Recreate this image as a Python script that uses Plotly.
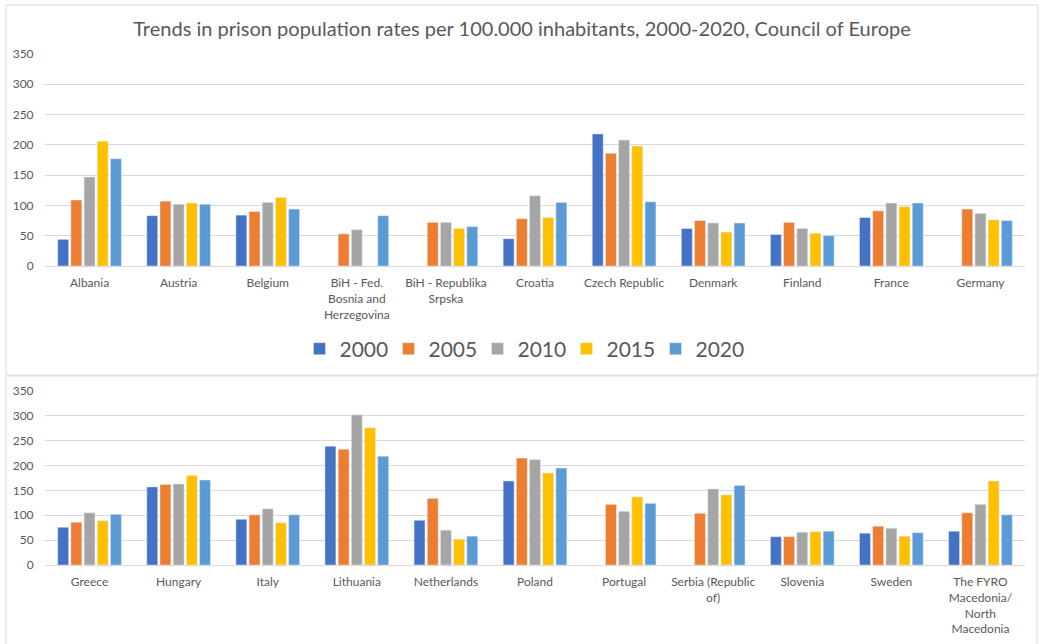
import plotly.graph_objects as go

title = "Trends in prison population rates per 100.000 inhabitants, 2000-2020, Council of Europe"
years = ["2000", "2005", "2010", "2015", "2020"]
colors = ["#4472C4", "#ED7D31", "#A5A5A5", "#FFC000", "#5B9BD5"]

countries_top = ["Albania", "Austria", "Belgium", "BiH - Fed.<br>Bosnia and<br>Herzegovina",
                 "BiH - Republika<br>Srpska", "Croatia", "Czech Republic", "Denmark",
                 "Finland", "France", "Germany"]
top_2000 = [44, 83, 84, None, None, 45, 218, 62, 52, 80, None]
top_2005 = [109, 107, 90, 53, 72, 78, 186, 75, 72, 91, 94]
top_2010 = [147, 102, 105, 60, 72, 116, 208, 71, 62, 104, 87]
top_2015 = [206, 104, 113, None, 62, 80, 198, 56, 54, 98, 76]
top_2020 = [177, 102, 94, 83, 65, 105, 106, 71, 50, 104, 75]

countries_bot = ["Greece", "Hungary", "Italy", "Lithuania", "Netherlands", "Poland",
                 "Portugal", "Serbia (Republic<br>of)", "Slovenia", "Sweden",
                 "The FYRO<br>Macedonia/<br>North<br>Macedonia"]
bot_2000 = [76, 157, 92, 239, 90, 169, None, None, 57, 64, 68]
bot_2005 = [86, 162, 101, 233, 134, 215, 122, 104, 57, 78, 105]
bot_2010 = [105, 163, 113, 302, 70, 212, 108, 153, 66, 74, 122]
bot_2015 = [89, 180, 85, 276, 52, 185, 137, 141, 67, 58, 169]
bot_2020 = [102, 171, 101, 219, 58, 195, 124, 160, 68, 65, 101]

top_series = [top_2000, top_2005, top_2010, top_2015, top_2020]
bot_series = [bot_2000, bot_2005, bot_2010, bot_2015, bot_2020]

W, H = 1041, 644
FONT = "Lato"
GRAY = "#595959"

fig = go.Figure()
for yr, col, vals in zip(years, colors, top_series):
    fig.add_trace(go.Bar(x=countries_top, y=vals, name=yr, marker_color=col,
                         xaxis="x", yaxis="y", showlegend=True))
for yr, col, vals in zip(years, colors, bot_series):
    fig.add_trace(go.Bar(x=countries_bot, y=vals, name=yr, marker_color=col,
                         xaxis="x2", yaxis="y2", showlegend=False))

def py(px):
    return (H - px) / H

xdom = [45 / W, 1025 / W]
yax = dict(range=[0, 350], dtick=50, showgrid=True, gridcolor="#D9D9D9", gridwidth=1,
           zeroline=False, showline=False, ticks="outside", ticklen=8, tickcolor="rgba(0,0,0,0)",
           tickfont=dict(family=FONT, size=12, color=GRAY), fixedrange=True, automargin=False)
xax = dict(type="category", showline=True, linecolor="#D9D9D9", linewidth=1,
           ticks="outside", ticklen=6, tickcolor="rgba(0,0,0,0)", automargin=False,
           tickfont=dict(family=FONT, size=12, color=GRAY), tickangle=0)

fig.update_layout(
    width=W, height=H, margin=dict(l=0, r=0, t=0, b=0, autoexpand=False),
    paper_bgcolor="white", plot_bgcolor="white",
    barmode="group", bargap=0.26, bargroupgap=0.17,
    xaxis=dict(domain=xdom, anchor="y", **xax),
    yaxis=dict(domain=[py(266), py(54)], anchor="x", **yax),
    xaxis2=dict(domain=xdom, anchor="y2", **xax),
    yaxis2=dict(domain=[py(565), py(391)], anchor="x2", **yax),
    title=dict(text=title, x=522 / W, xanchor="center", y=py(29), yanchor="middle",
               font=dict(family=FONT, size=20, color=GRAY)),
    legend=dict(orientation="h", x=522 / W, xanchor="center", y=py(349), yanchor="middle",
                font=dict(family=FONT, size=21, color=GRAY), bgcolor="rgba(0,0,0,0)",
                itemwidth=30, entrywidth=44, entrywidthmode="pixels"),
    shapes=[
        dict(type="rect", xref="paper", yref="paper", x0=6 / W, x1=1038 / W,
             y0=py(375), y1=py(5), line=dict(color="#D9D9D9", width=1)),
        dict(type="rect", xref="paper", yref="paper", x0=6 / W, x1=1037 / W,
             y0=py(660), y1=py(376), line=dict(color="#D9D9D9", width=1)),
    ],
)

fig.write_html("out.html")
